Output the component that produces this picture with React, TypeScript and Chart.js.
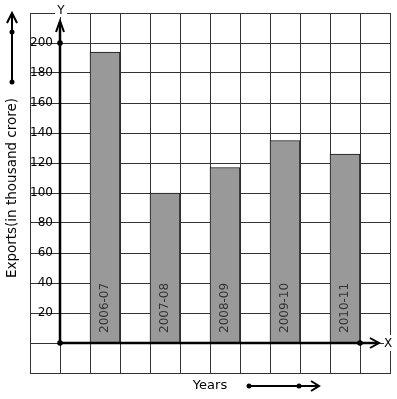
import React, { useEffect, useRef } from 'react';
import { Chart, registerables } from 'chart.js';

Chart.register(...registerables);

// ---- data ----
const categories = ['2006-07', '2007-08', '2008-09', '2009-10', '2010-11'];
const exportsValues = [194, 100, 117, 135, 126];
const yTickLabels = [20, 40, 60, 80, 100, 120, 140, 160, 180, 200];
const yAxisTitle = 'Exports(in thousand crore)';
const xAxisTitle = 'Years';
const xAxisName = 'X';
const yAxisName = 'Y';

const FONT = "'DejaVu Sans', sans-serif";

const decorPlugin = {
  id: 'decor',
  afterDraw(chart: any) {
    const { ctx, chartArea, scales } = chart;
    const xs = scales.x;
    const ys = scales.y;
    const ox = xs.getPixelForValue(0);
    const oy = ys.getPixelForValue(0);
    ctx.save();

    // year labels inside bars
    const meta = chart.getDatasetMeta(0);
    ctx.font = `12px ${FONT}`;
    ctx.fillStyle = '#333';
    meta.data.forEach((bar: any, i: number) => {
      ctx.save();
      ctx.translate(bar.x, oy - 10);
      ctx.rotate(-Math.PI / 2);
      ctx.textAlign = 'left';
      ctx.textBaseline = 'middle';
      ctx.fillText(categories[i], 0, 0);
      ctx.restore();
    });

    // y axis title
    ctx.save();
    ctx.fillStyle = '#000';
    ctx.font = `13.5px ${FONT}`;
    ctx.translate(chartArea.left - 18, (chartArea.top + chartArea.bottom) / 2 - 5);
    ctx.rotate(-Math.PI / 2);
    ctx.textAlign = 'center';
    ctx.textBaseline = 'middle';
    ctx.fillText(yAxisTitle, 0, 0);
    ctx.restore();

    ctx.strokeStyle = '#000';
    ctx.fillStyle = '#000';
    ctx.lineCap = 'butt';
    ctx.lineJoin = 'miter';

    const dot = (x: number, y: number, r = 2.8) => {
      ctx.beginPath();
      ctx.arc(x, y, r, 0, Math.PI * 2);
      ctx.fill();
    };

    // Y axis with arrow
    const yTip = chartArea.top + 8;
    ctx.lineWidth = 2.5;
    ctx.beginPath();
    ctx.moveTo(ox, oy);
    ctx.lineTo(ox, yTip + 1);
    ctx.stroke();
    ctx.lineWidth = 2;
    ctx.beginPath();
    ctx.moveTo(ox - 4, yTip + 11);
    ctx.lineTo(ox, yTip);
    ctx.lineTo(ox + 4, yTip + 11);
    ctx.stroke();

    // X axis with arrow
    const xTip = chartArea.right - 11;
    ctx.lineWidth = 2.5;
    ctx.beginPath();
    ctx.moveTo(ox, oy);
    ctx.lineTo(xTip - 1, oy);
    ctx.stroke();
    ctx.lineWidth = 2;
    ctx.beginPath();
    ctx.moveTo(xTip - 9, oy - 5);
    ctx.lineTo(xTip, oy);
    ctx.lineTo(xTip - 9, oy + 5);
    ctx.stroke();

    dot(ox, ys.getPixelForValue(200));
    dot(ox, oy);
    dot(xs.getPixelForValue(10), oy);

    // axis names with white background
    ctx.fillStyle = '#fff';
    ctx.fillRect(ox - 5, chartArea.top - 4, 12, 8);
    ctx.fillRect(chartArea.right - 6, oy - 8, 11, 16);
    ctx.fillStyle = '#000';
    ctx.font = `12px ${FONT}`;
    ctx.textAlign = 'center';
    ctx.textBaseline = 'middle';
    ctx.fillText(yAxisName, ox + 1, chartArea.top - 2);
    ctx.fillText(xAxisName, chartArea.right - 2, oy + 1);

    // left decorative arrow
    const lx = chartArea.left - 18;
    const lTop = chartArea.top;
    ctx.lineWidth = 2;
    ctx.beginPath();
    ctx.moveTo(lx, lTop + 69);
    ctx.lineTo(lx, lTop + 1);
    ctx.stroke();
    ctx.beginPath();
    ctx.moveTo(lx - 5, lTop + 10);
    ctx.lineTo(lx, lTop);
    ctx.lineTo(lx + 5, lTop + 10);
    ctx.stroke();
    dot(lx, lTop + 19, 2.5);
    dot(lx, lTop + 69, 2.5);

    // bottom decorative arrow
    const by = chartArea.bottom + 13;
    const bStart = chartArea.left + 219;
    const bTip = chartArea.left + 289;
    ctx.beginPath();
    ctx.moveTo(bStart, by);
    ctx.lineTo(bTip - 1, by);
    ctx.stroke();
    ctx.beginPath();
    ctx.moveTo(bTip - 8, by - 5);
    ctx.lineTo(bTip, by);
    ctx.lineTo(bTip - 8, by + 5);
    ctx.stroke();
    dot(bStart, by, 2.5);
    dot(bStart + 50, by, 2.5);

    ctx.restore();
  },
};

export default function App() {
  const canvasRef = useRef<HTMLCanvasElement | null>(null);

  useEffect(() => {
    const canvas = canvasRef.current;
    if (!canvas) return;
    const chart = new Chart(canvas, {
      type: 'bar',
      data: {
        datasets: [
          {
            data: categories.map((c, i) => ({ x: 2 * i + 1.5, y: exportsValues[i] })) as any,
            backgroundColor: '#999999',
            borderColor: '#111111',
            borderWidth: 1,
            barPercentage: 1,
            categoryPercentage: 1,
          },
        ],
      },
      options: {
        responsive: false,
        animation: false,
        layout: { padding: { top: 13, right: 7, left: 0, bottom: 0 } },
        plugins: { legend: { display: false }, tooltip: { enabled: false } },
        scales: {
          x: {
            type: 'linear',
            min: -1,
            max: 11,
            offset: false,
            grid: { color: '#333', lineWidth: 1, drawTicks: false, offset: false },
            border: { color: '#333' },
            ticks: { display: false, stepSize: 1 },
            title: {
              display: true,
              text: xAxisTitle,
              color: '#000',
              font: { size: 13, family: FONT },
              padding: { top: 0, bottom: 6 },
            },
            afterFit: (s: any) => {
              s.height = 26;
            },
          },
          y: {
            type: 'linear',
            min: -20,
            max: 220,
            grid: { color: '#333', lineWidth: 1, drawTicks: false },
            border: { color: '#333' },
            ticks: {
              stepSize: 20,
              mirror: true,
              crossAlign: 'far',
              padding: 0,
              color: '#000',
              font: { size: 12, family: FONT },
              callback: (v: any) => (yTickLabels.includes(Number(v)) ? String(v) : ''),
            },
            title: { display: false },
            afterFit: (s: any) => {
              s.width = 30;
            },
          },
        },
      } as any,
      plugins: [decorPlugin],
    });
    return () => chart.destroy();
  }, []);

  return (
    <div style={{ position: 'absolute', left: 0, top: 0, width: 397, height: 399, background: '#fff' }}>
      <canvas ref={canvasRef} width={397} height={399} style={{ display: 'block' }} />
    </div>
  );
}
